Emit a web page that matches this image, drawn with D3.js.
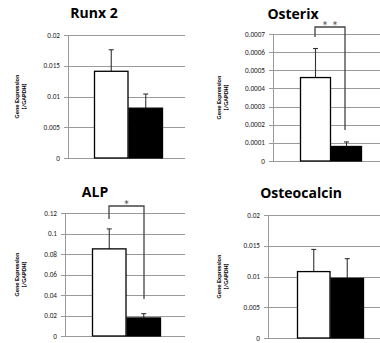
<!DOCTYPE html>
<html lang="en">
<head>
<meta charset="UTF-8" />
<title>Gene expression</title>
<script src="https://d3js.org/d3.v7.min.js"></script>
<style>
  body { margin: 0; background: #fff; }
  svg { display: block; font-family: Carlito, "Open Sans", sans-serif; }
  .title { font-family: "Open Sans", sans-serif; }
</style>
</head>
<body>
<svg id="chart" width="380" height="343"></svg>
<script>
// data
var genes = ["Runx 2", "Osterix", "ALP", "Osteocalcin"];
var yMax = [0.02, 0.0007, 0.12, 0.02];
var yStep = [0.005, 0.0001, 0.02, 0.005];
var tickDecimals = [3, 4, 2, 3];
var controlMean = [0.0141, 0.00046, 0.085, 0.0108];
var controlErr = [0.0035, 0.00016, 0.0195, 0.0036];
var treatedMean = [0.0081, 0.00008, 0.0176, 0.0097];
var treatedErr = [0.0023, 0.000025, 0.0042, 0.0032];
var significance = ["", "* *", "*", ""];
var yLabel = ["Gene Expression", "(/GAPDH)"];

// panel frames (pixels)
var frames = [
  { axisX: 68, right: 185, top: 35, bottom: 158, bar0: 94, bar1: 129, bar2: 163, titleX: 94, titleY: 18, labX: 19 },
  { axisX: 273, right: 380, top: 34, bottom: 161, bar0: 300, bar1: 330, bar2: 362, titleX: 293, titleY: 19, labX: 221 },
  { axisX: 65, right: 185, top: 213, bottom: 336, bar0: 92, bar1: 126, bar2: 161, titleX: 95, titleY: 197, labX: 19 },
  { axisX: 268, right: 380, top: 215, bottom: 338, bar0: 297, bar1: 330, bar2: 364, titleX: 301, titleY: 198, labX: 221 }
];
var brackets = [
  null,
  { y: 27, x0: 315, x1: 345, leftEnd: 37, rightEnd: 130 },
  { y: 206, x0: 109, x1: 144, leftEnd: 219, rightEnd: 299 },
  null
];

var svg = d3.select("#chart");

genes.forEach(function (gene, i) {
  var f = frames[i];
  var g = svg.append("g");

  var y = d3.scaleLinear().domain([0, yMax[i]]).range([f.bottom, f.top]);
  var x = d3.scaleBand().domain(["control", "treated"]).range([f.bar0, f.bar2]).padding(0);

  var ticks = d3.range(0, yMax[i] + yStep[i] / 2, yStep[i]);

  // gridlines
  g.selectAll(".grid").data(ticks).enter().append("line")
    .attr("x1", f.axisX - 4).attr("x2", f.right)
    .attr("y1", function (d) { return Math.round(y(d)) + 0.5; })
    .attr("y2", function (d) { return Math.round(y(d)) + 0.5; })
    .attr("stroke", "#9a9a9a").attr("stroke-width", 1);

  // axis line
  g.append("line")
    .attr("x1", f.axisX + 0.5).attr("x2", f.axisX + 0.5)
    .attr("y1", y(yMax[i])).attr("y2", f.bottom)
    .attr("stroke", "#9a9a9a");

  // tick labels
  g.selectAll(".tl").data(ticks).enter().append("text")
    .attr("x", f.axisX - 8)
    .attr("y", function (d) { return y(d) + 2.6; })
    .attr("text-anchor", "end")
    .attr("font-size", 7.2)
    .attr("fill", "#222")
    .text(function (d) {
      if (d === 0) return "0";
      return d3.format("." + tickDecimals[i] + "f")(d).replace(/0+$/, "");
    });

  var vals = [
    { key: "control", mean: controlMean[i], err: controlErr[i], fill: "#fff" },
    { key: "treated", mean: treatedMean[i], err: treatedErr[i], fill: "#000" }
  ];

  // error bars (upper only)
  g.selectAll(".err").data(vals).enter().append("line")
    .attr("x1", function (d) { return x(d.key) + x.bandwidth() / 2; })
    .attr("x2", function (d) { return x(d.key) + x.bandwidth() / 2; })
    .attr("y1", function (d) { return y(d.mean); })
    .attr("y2", function (d) { return y(d.mean + d.err); })
    .attr("stroke", "#333").attr("stroke-width", 1.1);
  g.selectAll(".cap").data(vals).enter().append("line")
    .attr("x1", function (d) { return x(d.key) + x.bandwidth() / 2 - 2.5; })
    .attr("x2", function (d) { return x(d.key) + x.bandwidth() / 2 + 2.5; })
    .attr("y1", function (d) { return y(d.mean + d.err); })
    .attr("y2", function (d) { return y(d.mean + d.err); })
    .attr("stroke", "#333").attr("stroke-width", 1.1);

  // bars
  g.selectAll(".bar").data(vals).enter().append("rect")
    .attr("x", function (d) { return x(d.key) + 0.5; })
    .attr("width", x.bandwidth() - 1)
    .attr("y", function (d) { return y(d.mean); })
    .attr("height", function (d) { return f.bottom - y(d.mean); })
    .attr("fill", function (d) { return d.fill; })
    .attr("stroke", "#000").attr("stroke-width", 1.3);

  // title
  g.append("text")
    .attr("class", "title")
    .attr("x", f.titleX).attr("y", f.titleY)
    .attr("text-anchor", "middle")
    .attr("font-size", 14).attr("font-weight", "bold")
    .text(gene);

  // y label
  var midY = (f.top + f.bottom) / 2;
  yLabel.forEach(function (t, k) {
    g.append("text")
      .attr("transform", "translate(" + (f.labX + k * 7) + "," + midY + ") rotate(-90)")
      .attr("text-anchor", "middle")
      .attr("font-size", 6.4).attr("font-weight", "bold")
      .text(t);
  });

  // significance bracket
  var b = brackets[i];
  if (b) {
    g.append("path")
      .attr("d", "M" + b.x0 + "," + b.leftEnd + "V" + b.y + "H" + b.x1 + "V" + b.rightEnd)
      .attr("fill", "none").attr("stroke", "#444").attr("stroke-width", 1.3);
    g.append("text")
      .attr("x", (b.x0 + b.x1) / 2).attr("y", b.y + 4)
      .attr("text-anchor", "middle")
      .attr("font-size", 14).attr("fill", "#555")
      .text(significance[i]);
  }
});
</script>
</body>
</html>
